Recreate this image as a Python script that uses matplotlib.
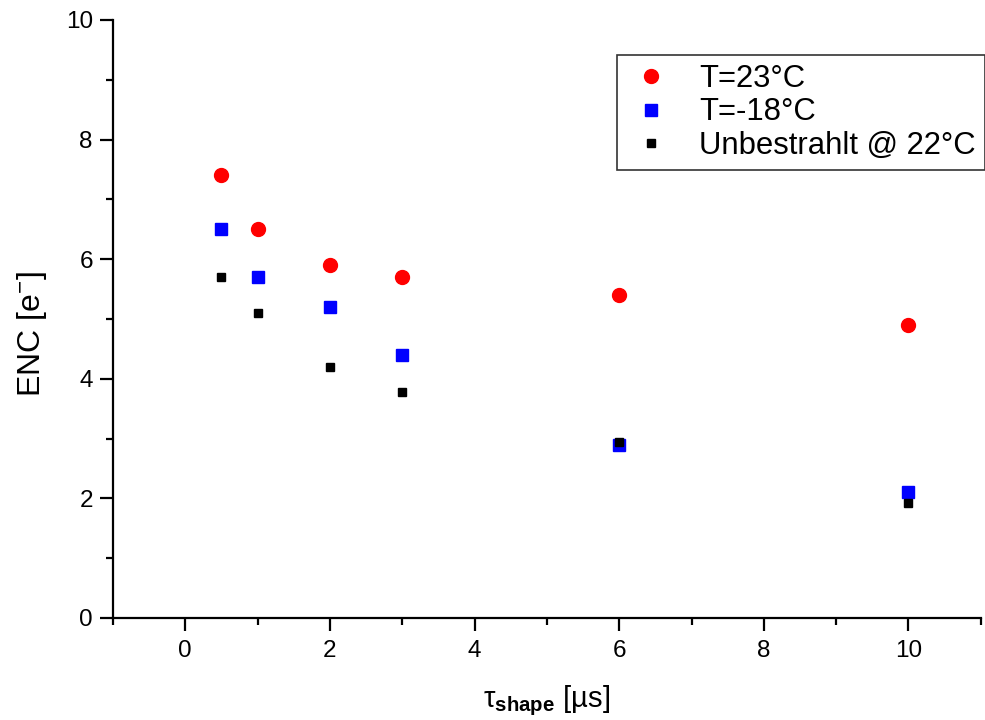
import matplotlib
matplotlib.use("Agg")
import matplotlib.pyplot as plt
from matplotlib.ticker import MultipleLocator

plt.rcParams['font.family'] = ['Liberation Sans', 'DejaVu Sans']
plt.rcParams['mathtext.fontset'] = 'custom'
plt.rcParams['mathtext.rm'] = 'Liberation Sans'
plt.rcParams['mathtext.it'] = 'Liberation Sans:italic'
plt.rcParams['mathtext.bf'] = 'Liberation Sans:bold'

# shaping time in microseconds
tau = [0.5, 1, 2, 3, 6, 10]
enc_23 = [7.4, 6.5, 5.9, 5.7, 5.4, 4.9]
enc_m18 = [6.5, 5.7, 5.2, 4.4, 2.9, 2.1]
enc_unirr = [5.7, 5.1, 4.2, 3.78, 2.95, 1.92]

fig = plt.figure(figsize=(9.85, 7.2), dpi=100)
ax = fig.add_axes([0.1147, 0.1417, 0.881, 0.8306])

ax.plot(tau, enc_23, 'o', color='red', markersize=10, label='T=23°C')
ax.plot(tau, enc_m18, 's', color='blue', markersize=8.5, label='T=-18°C')
ax.plot(tau, enc_unirr, 's', color='black', markersize=6, label='Unbestrahlt @ 22°C')

ax.set_xlim(-1, 11)
ax.set_ylim(0, 10)
ax.xaxis.set_major_locator(MultipleLocator(2))
ax.xaxis.set_minor_locator(MultipleLocator(1))
ax.yaxis.set_major_locator(MultipleLocator(2))
ax.yaxis.set_minor_locator(MultipleLocator(1))

for s in ['top', 'right']:
    ax.spines[s].set_visible(False)
for s in ['left', 'bottom']:
    ax.spines[s].set_linewidth(1.6)

ax.tick_params(which='major', direction='out', length=9.5, width=1.6, labelsize=17.5)
ax.tick_params(axis='x', which='major', pad=6)
ax.tick_params(axis='y', which='major', pad=5)
ax.tick_params(which='minor', direction='out', length=5, width=1.6)

ax.set_xlabel('τ$_{\\mathbf{shape}}$ [µs]', fontsize=21, labelpad=16)
ax.set_ylabel('ENC [e$^{-}$]', fontsize=23, labelpad=12, y=0.475)

leg = ax.legend(loc='upper left', bbox_to_anchor=(617 / 985, 1 - 55 / 720),
                bbox_transform=fig.transFigure, fontsize=22.3, frameon=True,
                fancybox=False, borderpad=0.3, labelspacing=0.1,
                handlelength=1.6, handletextpad=0.75, borderaxespad=0)
leg.get_frame().set_edgecolor('black')
leg.get_frame().set_linewidth(1.2)

fig.savefig('out.png', dpi=100)
